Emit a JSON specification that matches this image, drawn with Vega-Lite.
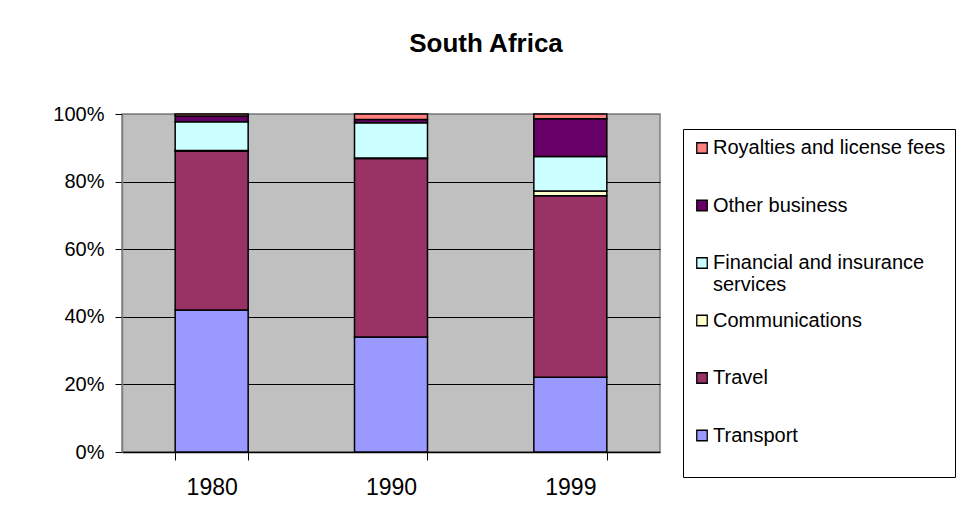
{
  "$schema": "https://vega.github.io/schema/vega-lite/v6.json",
  "width": 538,
  "height": 338,
  "autosize": {"type": "none"},
  "padding": {"left": 122, "top": 114, "right": 296, "bottom": 74},
  "background": "white",
  "title": {
    "text": "South Africa",
    "font": "Liberation Sans",
    "fontSize": 26,
    "fontWeight": "bold",
    "color": "black",
    "anchor": "middle",
    "baseline": "alphabetic",
    "offset": 26,
    "dx": 95
  },
  "config": {
    "view": {"fill": "#C0C0C0", "stroke": "#808080", "strokeWidth": 1.5},
    "font": "Liberation Sans"
  },
  "data": {
    "values": [
      {"year": "1980", "service": "Transport", "share": 0.42},
      {"year": "1980", "service": "Travel", "share": 0.47},
      {"year": "1980", "service": "Communications", "share": 0.002},
      {"year": "1980", "service": "Financial and insurance services", "share": 0.085},
      {"year": "1980", "service": "Other business", "share": 0.017},
      {"year": "1980", "service": "Royalties and license fees", "share": 0.006},
      {"year": "1990", "service": "Transport", "share": 0.34},
      {"year": "1990", "service": "Travel", "share": 0.528},
      {"year": "1990", "service": "Communications", "share": 0.002},
      {"year": "1990", "service": "Financial and insurance services", "share": 0.104},
      {"year": "1990", "service": "Other business", "share": 0.01},
      {"year": "1990", "service": "Royalties and license fees", "share": 0.016},
      {"year": "1999", "service": "Transport", "share": 0.221},
      {"year": "1999", "service": "Travel", "share": 0.537},
      {"year": "1999", "service": "Communications", "share": 0.014},
      {"year": "1999", "service": "Financial and insurance services", "share": 0.102},
      {"year": "1999", "service": "Other business", "share": 0.112},
      {"year": "1999", "service": "Royalties and license fees", "share": 0.014}
    ]
  },
  "transform": [
    {"calculate": "indexof(['Transport','Travel','Communications','Financial and insurance services','Other business','Royalties and license fees'], datum.service)", "as": "rank"}
  ],
  "mark": {"type": "bar", "stroke": "black", "strokeWidth": 1.5},
  "encoding": {
    "x": {
      "field": "year",
      "type": "nominal",
      "scale": {"paddingInner": 0.593, "paddingOuter": 0.2965},
      "axis": {
        "title": null,
        "labelAngle": 0,
        "labelFontSize": 23,
        "labelColor": "black",
        "labelPadding": 16,
        "tickBand": "extent",
        "tickSize": 8,
        "tickColor": "black",
        "domainColor": "black",
        "domainWidth": 1.5,
        "grid": false
      }
    },
    "y": {
      "field": "share",
      "type": "quantitative",
      "stack": "normalize",
      "scale": {"domain": [0, 1]},
      "axis": {
        "title": null,
        "format": ".0%",
        "values": [0, 0.2, 0.4, 0.6, 0.8, 1],
        "labelFontSize": 20,
        "labelColor": "black",
        "labelPadding": 11,
        "tickSize": 7,
        "tickColor": "black",
        "domainColor": "#808080",
        "domainWidth": 1.5,
        "grid": true,
        "gridColor": {"condition": {"test": "datum.value >= 1 || datum.value <= 0", "value": "#808080"}, "value": "black"},
        "gridOpacity": 1,
        "gridWidth": 1
      }
    },
    "color": {
      "field": "service",
      "type": "nominal",
      "scale": {
        "domain": ["Royalties and license fees", "Other business", "Financial and insurance services", "Communications", "Travel", "Transport"],
        "range": ["#FF8080", "#660066", "#CCFFFF", "#FFFFCC", "#993366", "#9999FF"]
      },
      "legend": {
        "title": " ",
        "titleOrient": "bottom",
        "titleFontSize": 14,
        "titlePadding": 8,
        "orient": "none",
        "legendX": 561,
        "legendY": 15,
        "strokeColor": "black",
        "padding": 9,
        "gridAlign": "all",
        "symbolType": "square",
        "symbolSize": 110,
        "symbolStrokeColor": "black",
        "symbolStrokeWidth": 1.3,
        "symbolOpacity": 1,
        "labelFontSize": 20,
        "labelColor": "black",
        "labelFont": "Liberation Sans",
        "labelLimit": 400,
        "labelOffset": 1,
        "rowPadding": 15.5,
        "labelExpr": "datum.label == 'Financial and insurance services' ? ['Financial and insurance', 'services'] : datum.label"
      }
    },
    "order": {"field": "rank", "type": "quantitative", "sort": "ascending"}
  }
}
